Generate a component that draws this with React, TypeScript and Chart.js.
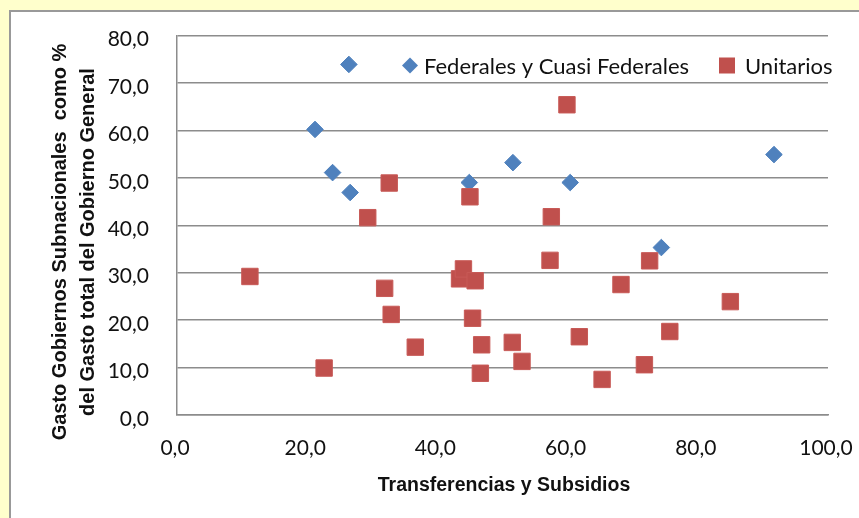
import React, { useEffect, useRef } from "react";
import { Chart, registerables } from "chart.js";

Chart.register(...registerables);

const fedLabel = "Federales y Cuasi Federales";
const uniLabel = "Unitarios";
const xTitle = "Transferencias y Subsidios";
const yTitle1 = "Gasto Gobiernos Subnacionales  como %";
const yTitle2 = "del Gasto total del Gobierno General";

const fedX = [26.4, 21.2, 23.9, 26.6, 44.9, 51.6, 60.4, 74.4, 91.7];
const fedY = [73.9, 60.2, 51.1, 46.9, 49.0, 53.2, 49.0, 35.3, 54.9];

const uniX = [11.2, 22.6, 29.3, 31.9, 32.6, 32.9, 36.6, 43.4, 44.0, 45.0, 45.4, 45.8, 46.6, 46.8, 51.5, 53.0, 57.3, 57.5, 59.9, 61.8, 65.3, 68.2, 71.8, 72.6, 75.7, 85.0];
const uniY = [29.2, 9.9, 41.6, 26.7, 48.9, 21.2, 14.3, 28.7, 30.8, 46.0, 20.4, 28.3, 8.8, 14.8, 15.3, 11.3, 32.6, 41.8, 65.4, 16.5, 7.5, 27.5, 10.6, 32.5, 17.6, 23.9];

const xMin = 0, xMax = 100, xStep = 20;
const yMin = 0, yMax = 80, yStep = 10;

const BLUE = "#4F81BD";
const RED = "#C0504D";
const GRID = "#8c8c8c";
const FONT = "Lato, 'Liberation Sans', sans-serif";
const BOLD_FONT = "'Liberation Sans', Arial, sans-serif";

const fmt = (v: number) => v.toFixed(1).replace(".", ",");

const overlayPlugin = {
  id: "overlay",
  afterDraw(chart: any) {
    const ctx = chart.ctx;
    const a = chart.chartArea;
    ctx.save();
    // legend
    const ly = a.top + 30;
    ctx.fillStyle = BLUE;
    const dx = a.left + 233;
    const r = 8;
    ctx.beginPath();
    ctx.moveTo(dx - r, ly);
    ctx.lineTo(dx, ly - r);
    ctx.lineTo(dx + r, ly);
    ctx.lineTo(dx, ly + r);
    ctx.closePath();
    ctx.fill();
    ctx.fillStyle = "#111";
    ctx.font = "22px " + FONT;
    ctx.textAlign = "left";
    ctx.textBaseline = "middle";
    ctx.fillText(fedLabel, dx + 14, ly + 1);
    const sx = a.left + 550;
    ctx.fillStyle = RED;
    ctx.fillRect(sx - 8, ly - 8, 16, 16);
    ctx.fillStyle = "#111";
    ctx.fillText(uniLabel, sx + 18, ly + 1);

    // x title
    ctx.font = "bold 19.5px " + BOLD_FONT;
    ctx.textAlign = "center";
    ctx.textBaseline = "alphabetic";
    ctx.fillText(xTitle, 504, 491);

    // y title
    ctx.font = "bold 20px " + BOLD_FONT;
    const cy = 242;
    ctx.save();
    ctx.translate(66, cy);
    ctx.rotate(-Math.PI / 2);
    ctx.fillText(yTitle1, 0, 0);
    ctx.restore();
    ctx.save();
    ctx.translate(94, cy);
    ctx.rotate(-Math.PI / 2);
    ctx.fillText(yTitle2, 0, 0);
    ctx.restore();
    ctx.restore();
  },
};

export default function App() {
  const ref = useRef<HTMLCanvasElement>(null);
  useEffect(() => {
    if (!ref.current) return;
    const chart = new Chart(ref.current, {
      type: "scatter",
      data: {
        datasets: [
          {
            label: fedLabel,
            data: fedX.map((x, i) => ({ x, y: fedY[i] })),
            pointStyle: "rectRot",
            pointRadius: 8.3,
            pointHoverRadius: 8.3,
            backgroundColor: BLUE,
            borderColor: BLUE,
            borderWidth: 1,
            order: 2,
          },
          {
            label: uniLabel,
            data: uniX.map((x, i) => ({ x, y: uniY[i] })),
            pointStyle: "rect",
            pointRadius: 11.6,
            pointHoverRadius: 11.6,
            backgroundColor: RED,
            borderColor: "#C85a57",
            borderWidth: 1,
            order: 1,
          },
        ],
      },
      options: {
        responsive: false,
        animation: false,
        devicePixelRatio: 1,
        layout: { padding: { top: 35.5, right: 0, left: 0, bottom: 0 } },
        plugins: { legend: { display: false }, tooltip: { enabled: false }, title: { display: false } },
        scales: {
          x: {
            type: "linear",
            min: xMin,
            max: xMax,
            afterFit: (s: any) => { s.height = 103; s.paddingRight = 31; s.paddingLeft = 0; },
            grid: { display: false, drawTicks: false },
            border: { display: true, color: GRID, width: 1.5 },
            ticks: {
              stepSize: xStep,
              padding: 21,
              labelOffset: -2,
              color: "#111",
              font: { family: FONT, size: 21 },
              callback: (v: any) => fmt(Number(v)),
              maxRotation: 0,
            },
          },
          y: {
            type: "linear",
            min: yMin,
            max: yMax,
            afterFit: (s: any) => { s.width = 177; s.paddingTop = 0; s.paddingBottom = 0; },
            grid: { color: GRID, lineWidth: 1.5, drawTicks: false },
            border: { display: true, color: GRID, width: 1.5 },
            ticks: {
              stepSize: yStep,
              padding: 28,
              labelOffset: 4,
              color: "#111",
              font: { family: FONT, size: 21 },
              callback: (v: any) => fmt(Number(v)),
            },
          },
        },
      },
      plugins: [overlayPlugin],
    });
    return () => chart.destroy();
  }, []);
  return (
    <div style={{ position: "fixed", left: 0, top: 0, width: 859, height: 518, background: "#FFFFCC", overflow: "hidden" }}>
      <div style={{ position: "absolute", left: 9, top: 10, width: 900, height: 600, background: "#fff", borderLeft: "2px solid #999", borderTop: "2px solid #999" }} />
      <canvas ref={ref} width={859} height={518} style={{ position: "absolute", left: 0, top: 0 }} />
    </div>
  );
}
